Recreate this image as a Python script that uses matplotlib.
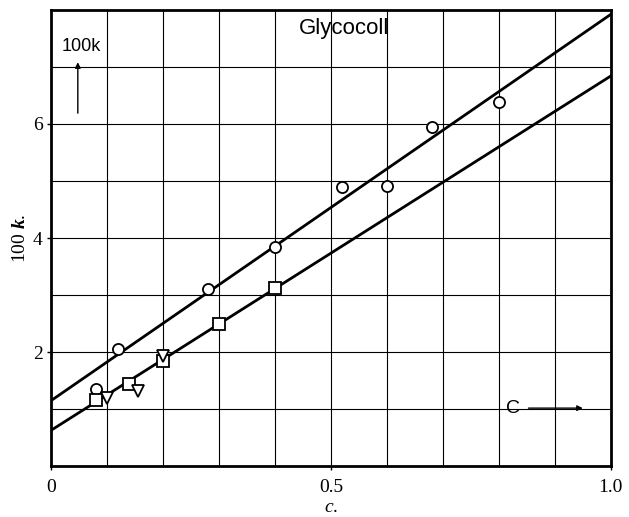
import matplotlib
matplotlib.use("Agg")
import matplotlib.pyplot as plt
import numpy as np

# data
circle_c = [0.08, 0.12, 0.28, 0.40, 0.52, 0.60, 0.68, 0.80]
circle_k = [1.35, 2.06, 3.10, 3.84, 4.90, 4.92, 5.95, 6.38]
square_c = [0.08, 0.14, 0.20, 0.30, 0.40]
square_k = [1.16, 1.44, 1.84, 2.50, 3.12]
tri_c = [0.10, 0.155, 0.20]
tri_k = [1.20, 1.32, 1.93]
# fitted lines: intercept, slope
line_intercepts = [1.15, 0.63]
line_slopes = [6.77, 6.21]

xticks = [0, 0.5, 1.0]
xticklabels = ["0", "0.5", "1.0"]
yticks = [2, 4, 6]

plt.rcParams["mathtext.fontset"] = "custom"
plt.rcParams["mathtext.bf"] = "Liberation Serif:bold:italic"
plt.rcParams["mathtext.it"] = "Liberation Serif:italic"

fig = plt.figure(figsize=(6.29, 5.17), dpi=100)
ax = fig.add_axes([0.081, 0.098, 0.890, 0.883])
ax.set_xlim(0, 1.0)
ax.set_ylim(0, 8)

# grid
for gx in np.arange(0.1, 1.0, 0.1):
    ax.axvline(gx, color="black", lw=0.8, zorder=1)
for gy in range(1, 8):
    ax.axhline(gy, color="black", lw=0.8, zorder=1)

# fit lines
xx = np.array([0.0, 1.0])
for b, m in zip(line_intercepts, line_slopes):
    ax.plot(xx, b + m * xx, color="black", lw=2.0, zorder=2)

ms = 8.0
ax.plot(circle_c, circle_k, "o", mfc="white", mec="black", mew=1.3, ms=ms, zorder=3)
ax.plot(square_c, square_k, "s", mfc="white", mec="black", mew=1.3, ms=ms, zorder=3)
ax.plot(tri_c, tri_k, "v", mfc="white", mec="black", mew=1.3, ms=ms, zorder=4)

for s in ax.spines.values():
    s.set_linewidth(2.0)

ax.set_xticks(xticks)
ax.set_xticklabels(xticklabels, fontfamily="Liberation Serif", fontsize=14)
ax.set_yticks(yticks)
ax.set_yticklabels([str(t) for t in yticks], fontfamily="Liberation Serif", fontsize=14)
ax.tick_params(direction="out", length=3, width=1, pad=3)
ax.tick_params(axis="x", pad=6)

ax.set_xlabel(r"$\mathit{c}$.", fontfamily="Liberation Serif", fontsize=14, labelpad=2)
ax.set_ylabel(r"100 $\mathbf{k}$.", fontfamily="Liberation Serif", fontsize=14, labelpad=3)

# annotations inside the plot
ax.text(0.524, 7.68, "Glycocoll", fontfamily="Liberation Sans", fontsize=16,
        ha="center", va="center", zorder=5)
ax.text(0.054, 7.36, "100k", fontfamily="Liberation Sans", fontsize=13,
        ha="center", va="center", zorder=5)
ax.annotate("", xy=(0.048, 7.13), xytext=(0.048, 6.14),
            arrowprops=dict(arrowstyle="-|>", color="black", lw=1.0, mutation_scale=8))
ax.text(0.826, 1.02, "C", fontfamily="Liberation Sans", fontsize=14,
        ha="center", va="center", zorder=5)
ax.annotate("", xy=(0.955, 1.02), xytext=(0.848, 1.02),
            arrowprops=dict(arrowstyle="-|>", color="black", lw=1.0, mutation_scale=8))

fig.savefig("out.png", dpi=100)
